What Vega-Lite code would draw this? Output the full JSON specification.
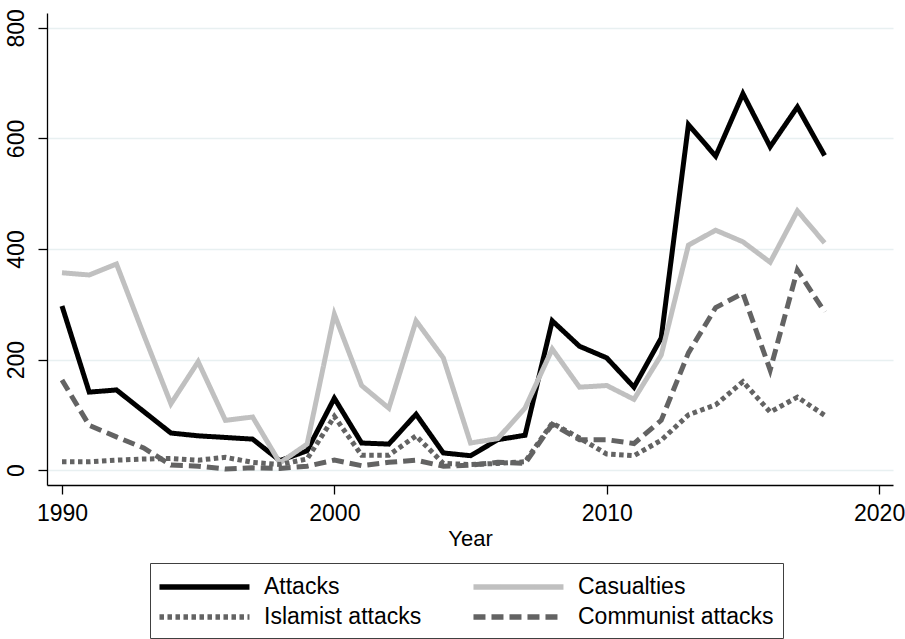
{
  "$schema": "https://vega.github.io/schema/vega-lite/v6.json",
  "width": 846,
  "height": 472,
  "autosize": "none",
  "padding": {"left": 47, "top": 13, "right": 12, "bottom": 154},
  "background": "white",
  "config": {
    "font": "Liberation Sans",
    "view": {"stroke": null},
    "axis": {"labelFont": "Liberation Sans", "titleFont": "Liberation Sans", "labelColor": "black", "titleColor": "black", "domainColor": "black", "tickColor": "black", "titleFontWeight": "normal"}
  },
  "data": {
    "values": [
      {"year": 1990, "series": "Attacks", "value": 297},
      {"year": 1991, "series": "Attacks", "value": 141},
      {"year": 1992, "series": "Attacks", "value": 145},
      {"year": 1993, "series": "Attacks", "value": 106},
      {"year": 1994, "series": "Attacks", "value": 67},
      {"year": 1995, "series": "Attacks", "value": 62},
      {"year": 1996, "series": "Attacks", "value": 59},
      {"year": 1997, "series": "Attacks", "value": 56},
      {"year": 1998, "series": "Attacks", "value": 17},
      {"year": 1999, "series": "Attacks", "value": 35},
      {"year": 2000, "series": "Attacks", "value": 130},
      {"year": 2001, "series": "Attacks", "value": 49},
      {"year": 2002, "series": "Attacks", "value": 47},
      {"year": 2003, "series": "Attacks", "value": 101},
      {"year": 2004, "series": "Attacks", "value": 31},
      {"year": 2005, "series": "Attacks", "value": 26},
      {"year": 2006, "series": "Attacks", "value": 55},
      {"year": 2007, "series": "Attacks", "value": 63},
      {"year": 2008, "series": "Attacks", "value": 270},
      {"year": 2009, "series": "Attacks", "value": 224},
      {"year": 2010, "series": "Attacks", "value": 203},
      {"year": 2011, "series": "Attacks", "value": 150},
      {"year": 2012, "series": "Attacks", "value": 239},
      {"year": 2013, "series": "Attacks", "value": 625},
      {"year": 2014, "series": "Attacks", "value": 568},
      {"year": 2015, "series": "Attacks", "value": 681},
      {"year": 2016, "series": "Attacks", "value": 585},
      {"year": 2017, "series": "Attacks", "value": 657},
      {"year": 2018, "series": "Attacks", "value": 569},
      {"year": 1990, "series": "Casualties", "value": 357},
      {"year": 1991, "series": "Casualties", "value": 353},
      {"year": 1992, "series": "Casualties", "value": 373},
      {"year": 1993, "series": "Casualties", "value": 245},
      {"year": 1994, "series": "Casualties", "value": 120},
      {"year": 1995, "series": "Casualties", "value": 196},
      {"year": 1996, "series": "Casualties", "value": 90},
      {"year": 1997, "series": "Casualties", "value": 96},
      {"year": 1998, "series": "Casualties", "value": 13},
      {"year": 1999, "series": "Casualties", "value": 47},
      {"year": 2000, "series": "Casualties", "value": 282},
      {"year": 2001, "series": "Casualties", "value": 153},
      {"year": 2002, "series": "Casualties", "value": 112},
      {"year": 2003, "series": "Casualties", "value": 270},
      {"year": 2004, "series": "Casualties", "value": 203},
      {"year": 2005, "series": "Casualties", "value": 49},
      {"year": 2006, "series": "Casualties", "value": 57},
      {"year": 2007, "series": "Casualties", "value": 112},
      {"year": 2008, "series": "Casualties", "value": 219},
      {"year": 2009, "series": "Casualties", "value": 150},
      {"year": 2010, "series": "Casualties", "value": 153},
      {"year": 2011, "series": "Casualties", "value": 128},
      {"year": 2012, "series": "Casualties", "value": 208},
      {"year": 2013, "series": "Casualties", "value": 407},
      {"year": 2014, "series": "Casualties", "value": 434},
      {"year": 2015, "series": "Casualties", "value": 413},
      {"year": 2016, "series": "Casualties", "value": 376},
      {"year": 2017, "series": "Casualties", "value": 469},
      {"year": 2018, "series": "Casualties", "value": 411},
      {"year": 1990, "series": "Islamist attacks", "value": 15},
      {"year": 1991, "series": "Islamist attacks", "value": 15},
      {"year": 1992, "series": "Islamist attacks", "value": 18},
      {"year": 1993, "series": "Islamist attacks", "value": 20},
      {"year": 1994, "series": "Islamist attacks", "value": 21},
      {"year": 1995, "series": "Islamist attacks", "value": 18},
      {"year": 1996, "series": "Islamist attacks", "value": 23},
      {"year": 1997, "series": "Islamist attacks", "value": 14},
      {"year": 1998, "series": "Islamist attacks", "value": 10},
      {"year": 1999, "series": "Islamist attacks", "value": 20},
      {"year": 2000, "series": "Islamist attacks", "value": 97},
      {"year": 2001, "series": "Islamist attacks", "value": 27},
      {"year": 2002, "series": "Islamist attacks", "value": 27},
      {"year": 2003, "series": "Islamist attacks", "value": 62},
      {"year": 2004, "series": "Islamist attacks", "value": 12},
      {"year": 2005, "series": "Islamist attacks", "value": 10},
      {"year": 2006, "series": "Islamist attacks", "value": 12},
      {"year": 2007, "series": "Islamist attacks", "value": 15},
      {"year": 2008, "series": "Islamist attacks", "value": 85},
      {"year": 2009, "series": "Islamist attacks", "value": 58},
      {"year": 2010, "series": "Islamist attacks", "value": 29},
      {"year": 2011, "series": "Islamist attacks", "value": 26},
      {"year": 2012, "series": "Islamist attacks", "value": 54},
      {"year": 2013, "series": "Islamist attacks", "value": 100},
      {"year": 2014, "series": "Islamist attacks", "value": 118},
      {"year": 2015, "series": "Islamist attacks", "value": 160},
      {"year": 2016, "series": "Islamist attacks", "value": 105},
      {"year": 2017, "series": "Islamist attacks", "value": 132},
      {"year": 2018, "series": "Islamist attacks", "value": 99},
      {"year": 1990, "series": "Communist attacks", "value": 163},
      {"year": 1991, "series": "Communist attacks", "value": 81},
      {"year": 1992, "series": "Communist attacks", "value": 60},
      {"year": 1993, "series": "Communist attacks", "value": 40},
      {"year": 1994, "series": "Communist attacks", "value": 9},
      {"year": 1995, "series": "Communist attacks", "value": 7},
      {"year": 1996, "series": "Communist attacks", "value": 2},
      {"year": 1997, "series": "Communist attacks", "value": 4},
      {"year": 1998, "series": "Communist attacks", "value": 3},
      {"year": 1999, "series": "Communist attacks", "value": 7},
      {"year": 2000, "series": "Communist attacks", "value": 18},
      {"year": 2001, "series": "Communist attacks", "value": 8},
      {"year": 2002, "series": "Communist attacks", "value": 14},
      {"year": 2003, "series": "Communist attacks", "value": 18},
      {"year": 2004, "series": "Communist attacks", "value": 7},
      {"year": 2005, "series": "Communist attacks", "value": 9},
      {"year": 2006, "series": "Communist attacks", "value": 14},
      {"year": 2007, "series": "Communist attacks", "value": 12},
      {"year": 2008, "series": "Communist attacks", "value": 83},
      {"year": 2009, "series": "Communist attacks", "value": 55},
      {"year": 2010, "series": "Communist attacks", "value": 55},
      {"year": 2011, "series": "Communist attacks", "value": 48},
      {"year": 2012, "series": "Communist attacks", "value": 90},
      {"year": 2013, "series": "Communist attacks", "value": 212},
      {"year": 2014, "series": "Communist attacks", "value": 294},
      {"year": 2015, "series": "Communist attacks", "value": 320},
      {"year": 2016, "series": "Communist attacks", "value": 181},
      {"year": 2017, "series": "Communist attacks", "value": 362},
      {"year": 2018, "series": "Communist attacks", "value": 286}
    ]
  },
  "mark": {"type": "line", "strokeWidth": 5, "strokeCap": "butt", "strokeJoin": "miter", "clip": true},
  "encoding": {
    "x": {
      "field": "year", "type": "quantitative",
      "scale": {"domain": [1989.45, 2020.51], "nice": false, "zero": false},
      "axis": {
        "title": "Year", "values": [1990, 2000, 2010, 2020], "format": "d",
        "grid": false, "labelFontSize": 23, "titleFontSize": 22,
        "tickSize": 9, "tickWidth": 1.3, "domainWidth": 1.3, "labelPadding": 8,
        "titlePadding": 3, "labelFlush": false
      }
    },
    "y": {
      "field": "value", "type": "quantitative",
      "scale": {"domain": [-27, 827], "nice": false, "zero": false},
      "axis": {
        "title": null, "values": [0, 200, 400, 600, 800],
        "grid": true, "gridColor": "#e8f0f1", "gridWidth": 1.5,
        "labelFontSize": 23, "labelAngle": -90, "labelAlign": "center", "labelBaseline": "bottom",
        "tickSize": 9, "tickWidth": 1.3, "domainWidth": 1.3, "labelPadding": 10, "labelFlush": false
      }
    },
    "color": {
      "field": "series", "type": "nominal",
      "scale": {
        "domain": ["Attacks", "Casualties", "Islamist attacks", "Communist attacks"],
        "range": ["#000000", "#c0c0c0", "#636363", "#636363"]
      },
      "legend": {
        "title": null, "orient": "none", "legendX": 103, "legendY": 550,
        "columns": 2, "direction": "horizontal",
        "strokeColor": "#404040", "padding": 9,
        "symbolType": "M-1.21,0H6.29", "symbolSize": 576, "symbolStrokeWidth": 5.5,
        "labelFontSize": 23, "labelFont": "Liberation Sans", "labelColor": "black",
        "labelOffset": 75, "columnPadding": 40, "rowPadding": 3, "labelLimit": 400
      }
    },
    "strokeDash": {
      "field": "series", "type": "nominal",
      "scale": {
        "domain": ["Attacks", "Casualties", "Islamist attacks", "Communist attacks"],
        "range": [[1, 0], [1, 0], [4.5, 3.5], [12, 6]]
      },
      "legend": null
    }
  }
}
